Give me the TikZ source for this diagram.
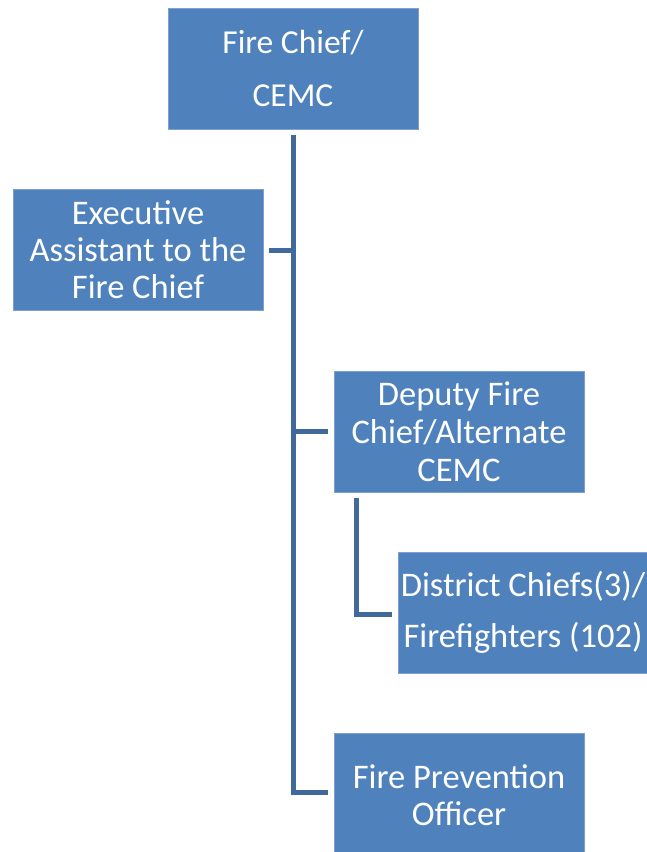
\documentclass[tikz,border=0pt]{standalone}
\usepackage{fontspec}
\setmainfont{Carlito}
\usetikzlibrary{calc}
\definecolor{boxblue}{RGB}{79,129,189}
\definecolor{boxedge}{RGB}{125,160,207}
\definecolor{linkblue}{RGB}{65,105,155}
\tikzset{
  orgbox/.style={rectangle, fill=boxblue, draw=boxedge, line width=0.8pt,
    text=white, align=center, inner sep=0pt,
    minimum width=250pt, minimum height=121pt},
  link/.style={draw=linkblue, line width=5pt, line join=miter}
}
\begin{document}
\begin{tikzpicture}[x=1pt,y=-1pt]
\useasboundingbox (0,0) rectangle (646,852);

\node[orgbox, font=\fontsize{33.5}{53}\selectfont] (chief) at (293,68.5) {Fire Chief/\\CEMC};
\node[orgbox, font=\fontsize{34.5}{37}\selectfont] (exec) at (138,250) {Executive\\Assistant to the\\Fire Chief};
\node[orgbox, font=\fontsize{34.5}{38}\selectfont] (deputy) at (459,431.5) {Deputy Fire\\Chief/Alternate\\CEMC};
\node[orgbox, font=\fontsize{34.5}{51}\selectfont] (district) at (523,612.5) {District Chiefs(3)/\\Firefighters (102)};
\node[orgbox, minimum height=125pt, font=\fontsize{34.5}{37}\selectfont] (fpo) at (459,795.5) {Fire Prevention\\Officer};

% trunk from the chief down to the fire prevention officer
\coordinate (trunk) at ($(chief.south)+(0,6)$);
\draw[link] (trunk) |- ($(fpo.west)+(-6,-3)$);
% branches off the trunk
\draw[link] ($(exec.east)+(6,0)$) -- (trunk |- exec.east);
\draw[link] (trunk |- deputy.west) -- ($(deputy.west)+(-6,0)$);
% deputy down to the district chiefs
\coordinate (sub) at ($(deputy.south west)+(23,6)$);
\draw[link] (sub) |- ($(district.west)+(-6,1.5)$);
\end{tikzpicture}
\end{document}
